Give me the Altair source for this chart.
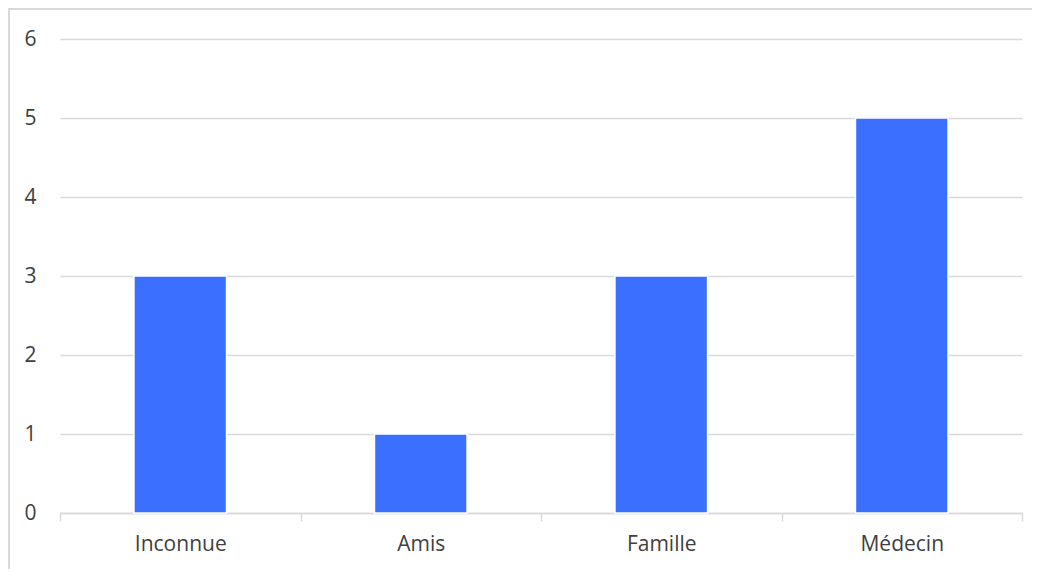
import altair as alt
import pandas as pd

categories = ["Inconnue", "Amis", "Famille", "Médecin"]
values = [3, 1, 3, 5]

df = pd.DataFrame({"cat": categories, "val": values})

FONT = "Open Sans"
GRAY = "#404040"

bars = alt.Chart(df).mark_bar(
    color="#3A6FFF", stroke="white", strokeWidth=1.5,
    width=alt.RelativeBandSize(0.385)
).encode(
    x=alt.X("cat:N", sort=categories, title=None,
            scale=alt.Scale(paddingInner=0, paddingOuter=0),
            axis=alt.Axis(labelAngle=0, labelFont=FONT, labelFontSize=21,
                          labelColor=GRAY, labelPadding=12,
                          domainColor="#d9d9d9", domainWidth=1.5,
                          tickColor="#d9d9d9", tickWidth=1.5, tickSize=8,
                          tickBand="extent", grid=False)),
    y=alt.Y("val:Q", title=None,
            scale=alt.Scale(domain=[0, 6], nice=False),
            axis=alt.Axis(values=[0, 1, 2, 3, 4, 5, 6], labelFont=FONT,
                          labelFontSize=21, labelColor=GRAY, labelPadding=24,
                          domain=False, ticks=False, gridColor="#d9d9d9",
                          gridWidth=1.5)),
)

border = alt.Chart(df).mark_rect(
    fill=None, stroke="#d9d9d9", strokeWidth=2
).encode(
    x=alt.value(-51), x2=alt.value(1100),
    y=alt.value(-30), y2=alt.value(700),
)

chart = alt.layer(border, bars).properties(
    width=962, height=474,
    background="white",
    autosize=alt.AutoSizeParams(type="none"),
    padding={"left": 52, "top": 31, "right": 10, "bottom": 56},
).configure_view(strokeWidth=0, stroke="transparent")

chart.save("out.html", embed_options={"renderer": "svg", "actions": False})
